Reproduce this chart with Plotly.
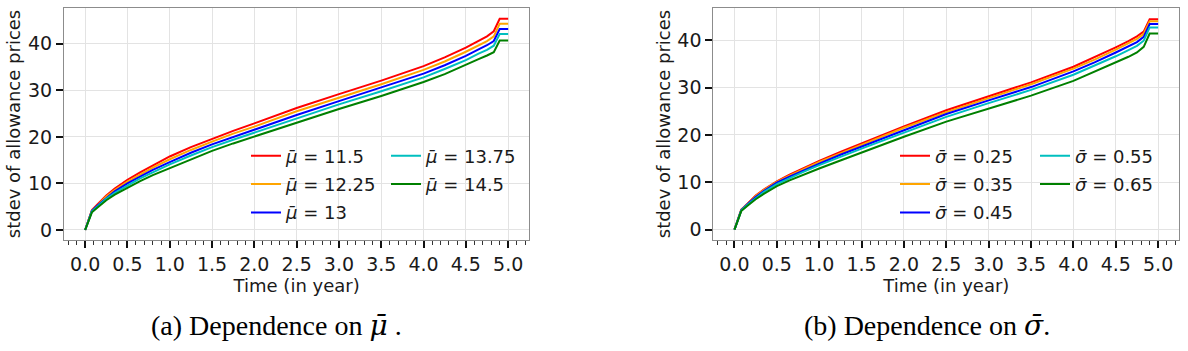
import plotly.graph_objects as go

# ---------------- data ----------------
time = [0, 0.08, 0.15, 0.25, 0.35, 0.5, 0.65, 0.8, 1.0, 1.25, 1.5, 1.75, 2.0,
        2.5, 3.0, 3.5, 4.0, 4.25, 4.5, 4.65, 4.75, 4.83, 4.9, 5.0]

mu_labels = ["11.5", "12.25", "13", "13.75", "14.5"]
mu_series = [
    [0, 4.3, 5.6, 7.4, 8.9, 10.8, 12.4, 13.9, 15.8, 17.8, 19.6, 21.3, 22.9,
     26.2, 29.2, 32.1, 35.2, 37.1, 39.2, 40.6, 41.6, 42.7, 45.4, 45.4],
    [0, 4.2, 5.4, 7.2, 8.6, 10.4, 11.9, 13.4, 15.2, 17.2, 19.0, 20.7, 22.2,
     25.5, 28.4, 31.3, 34.4, 36.2, 38.3, 39.7, 40.6, 41.6, 44.3, 44.3],
    [0, 4.1, 5.3, 6.9, 8.3, 10.0, 11.5, 12.9, 14.6, 16.6, 18.4, 20.0, 21.6,
     24.7, 27.7, 30.6, 33.6, 35.4, 37.4, 38.8, 39.7, 40.6, 43.2, 43.2],
    [0, 4.0, 5.1, 6.7, 8.0, 9.6, 11.1, 12.4, 14.1, 16.0, 17.8, 19.4, 20.9,
     24.0, 27.0, 29.8, 32.8, 34.6, 36.5, 37.9, 38.7, 39.6, 42.1, 42.1],
    [0, 3.8, 4.9, 6.4, 7.6, 9.1, 10.5, 11.8, 13.3, 15.2, 17.0, 18.6, 20.1,
     23.1, 26.0, 28.8, 31.8, 33.5, 35.4, 36.7, 37.5, 38.2, 40.7, 40.7],
]

sigma_labels = ["0.25", "0.35", "0.45", "0.55", "0.65"]
sigma_series = [
    [0, 4.2, 5.4, 7.2, 8.5, 10.2, 11.6, 12.9, 14.5, 16.4, 18.2, 20.0, 21.8,
     25.2, 28.2, 31.1, 34.4, 36.4, 38.5, 39.8, 40.8, 41.8, 44.4, 44.4],
    [0, 4.2, 5.3, 7.1, 8.4, 10.1, 11.4, 12.7, 14.3, 16.1, 17.9, 19.7, 21.5,
     24.8, 27.8, 30.7, 34.0, 35.9, 38.0, 39.3, 40.3, 41.3, 44.0, 44.0],
    [0, 4.1, 5.3, 6.9, 8.2, 9.9, 11.2, 12.4, 13.9, 15.8, 17.5, 19.3, 21.0,
     24.4, 27.3, 30.1, 33.4, 35.3, 37.4, 38.7, 39.6, 40.7, 43.4, 43.4],
    [0, 4.0, 5.2, 6.7, 8.0, 9.6, 10.9, 12.1, 13.6, 15.4, 17.1, 18.8, 20.5,
     23.8, 26.7, 29.5, 32.7, 34.6, 36.6, 37.9, 38.8, 39.9, 42.7, 42.7],
    [0, 3.9, 5.0, 6.4, 7.6, 9.2, 10.4, 11.5, 12.9, 14.6, 16.3, 18.0, 19.6,
     22.8, 25.6, 28.3, 31.4, 33.3, 35.3, 36.5, 37.4, 38.6, 41.4, 41.4],
]

x_ticks = [0.0, 0.5, 1.0, 1.5, 2.0, 2.5, 3.0, 3.5, 4.0, 4.5, 5.0]
y_ticks = [0, 10, 20, 30, 40]
colors = ["#ff0000", "#ffa500", "#0000ff", "#00bfbf", "#008000"]
# legend row assignment (2 columns, column-major like matplotlib ncol=2)
row_of = [0, 1, 2, 0, 1]

W, H = 1188, 351
FONT = "DejaVu Sans"

fig = go.Figure()

legend_names_left = ["legend", "legend2", "legend3"]
legend_names_right = ["legend4", "legend5", "legend6"]

for i, (lab, ys) in enumerate(zip(mu_labels, mu_series)):
    fig.add_trace(go.Scatter(
        x=time, y=ys, mode="lines", xaxis="x", yaxis="y",
        line=dict(color=colors[i], width=2),
        name=f"<i>μ̄</i> = {lab}", legend=legend_names_left[row_of[i]],
    ))
for i, (lab, ys) in enumerate(zip(sigma_labels, sigma_series)):
    fig.add_trace(go.Scatter(
        x=time, y=ys, mode="lines", xaxis="x2", yaxis="y2",
        line=dict(color=colors[i], width=2),
        name=f"<i>σ̄</i> = {lab}", legend=legend_names_right[row_of[i]],
    ))

ydom = [1 - 240 / H, 1 - 8 / H]
xdom1 = [64 / W, 529.3 / W]
xdom2 = [713.3 / W, 1179.3 / W]

def xaxis(dom, anchor):
    return dict(
        domain=dom, anchor=anchor, range=[-0.25, 5.25],
        tickvals=x_ticks, ticktext=[f"{v:.1f}" for v in x_ticks],
        ticks="outside", ticklen=7, tickwidth=2, tickcolor="#111",
        minor=dict(dtick=0.1, tick0=0, ticks="outside", ticklen=4, tickwidth=1,
                   tickcolor="#333", showgrid=False),
        showline=True, mirror=True, linecolor="#8c8c8c", linewidth=1,
        showgrid=True, gridcolor="#e3e3e3", gridwidth=1, zeroline=False,
        tickfont=dict(family=FONT, size=19, color="#1a1a1a"),
        title=dict(text="Time (in year)", font=dict(family=FONT, size=18, color="#1a1a1a"),
                   standoff=0),
    )

def yaxis(dom, anchor, rng):
    return dict(
        domain=dom, anchor=anchor, range=rng,
        tickvals=y_ticks, ticks="outside", ticklen=7, tickwidth=2, tickcolor="#111",
        showline=True, mirror=True, linecolor="#8c8c8c", linewidth=1,
        showgrid=True, gridcolor="#e3e3e3", gridwidth=1, zeroline=False,
        tickfont=dict(family=FONT, size=19, color="#1a1a1a"),
        title=dict(text="stdev of allowance prices",
                   font=dict(family=FONT, size=18, color="#1a1a1a"), standoff=2),
    )

def legend_at(xpx, ypx):
    return dict(
        x=xpx / W, y=1 - ypx / H, xanchor="left", yanchor="middle",
        orientation="h", entrywidth=95, entrywidthmode="pixels",
        bgcolor="rgba(0,0,0,0)", borderwidth=0, itemwidth=30,
        font=dict(family=FONT, size=18, color="#1a1a1a"),
        tracegroupgap=0,
    )

row_y = [156, 184.3, 212.7]
layout_legends = {}
for k, name in enumerate(legend_names_left):
    layout_legends[name] = legend_at(246, row_y[k])
for k, name in enumerate(legend_names_right):
    layout_legends[name] = legend_at(895, row_y[k])

fig.update_layout(
    width=W, height=H,
    margin=dict(l=0, r=0, t=0, b=0),
    paper_bgcolor="white", plot_bgcolor="white",
    xaxis=xaxis(xdom1, "y"),
    yaxis=yaxis(ydom, "x", [-2.15, 47.7]),
    xaxis2=xaxis(xdom2, "y2"),
    yaxis2=yaxis(ydom, "x2", [-2.2, 46.8]),
    showlegend=True,
    **layout_legends,
)

caption_font = dict(family="Liberation Serif", size=28, color="black")
sym = "<span style='font-family:\"DejaVu Serif\";font-style:italic'>{}</span>"
fig.add_annotation(text="(a) Dependence on " + sym.format("μ̄") + "&nbsp;.",
                   x=276 / W, y=1 - 325 / H,
                   xref="paper", yref="paper", showarrow=False,
                   xanchor="center", yanchor="middle", font=caption_font)
fig.add_annotation(text="(b) Dependence on " + sym.format("σ̄") + ".",
                   x=927 / W, y=1 - 325 / H,
                   xref="paper", yref="paper", showarrow=False,
                   xanchor="center", yanchor="middle", font=caption_font)

fig.write_html("out.html")
